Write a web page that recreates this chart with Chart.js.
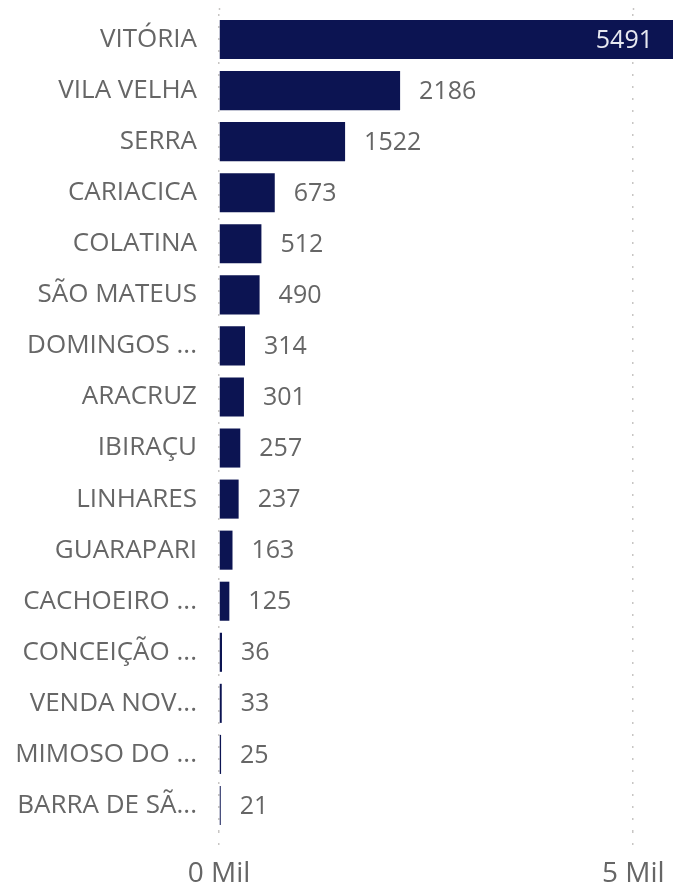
<!DOCTYPE html>
<html>
<head>
<meta charset="utf-8">
<script src="https://cdn.jsdelivr.net/npm/chart.js@4/dist/chart.umd.min.js"></script>
<style>
  html, body { margin: 0; padding: 0; background: #ffffff; }
  #wrap { width: 673px; height: 896px; }
</style>
</head>
<body>
<div id="wrap"><canvas id="canvas"></canvas></div>
<script>
// cities (truncated like in the original visual)
var cities = ["VITÓRIA", "VILA VELHA", "SERRA", "CARIACICA", "COLATINA", "SÃO MATEUS",
  "DOMINGOS ...", "ARACRUZ", "IBIRAÇU", "LINHARES", "GUARAPARI", "CACHOEIRO ...",
  "CONCEIÇÃO ...", "VENDA NOV...", "MIMOSO DO ...", "BARRA DE SÃ..."];
var counts = [5491, 2186, 1522, 673, 512, 490, 314, 301, 257, 237, 163, 125, 36, 33, 25, 21];
var tickValues = [0, 5000];
var axisMax = 5480;

var FONT = "'Open Sans', 'Noto Sans', sans-serif";
var GRID = "#c8c6c4";

// draws the value next to (or inside) every bar
var barLabels = {
  id: "barLabels",
  beforeDatasetsDraw: function (chart) {
    // the dotted gridlines start a little above the plot area
    var ctx = chart.ctx;
    var x = chart.scales.x;
    ctx.save();
    ctx.strokeStyle = GRID;
    ctx.lineWidth = 1.5;
    ctx.setLineDash([2, 10]);
    tickValues.forEach(function (v) {
      var px = Math.round(x.getPixelForValue(v)) + 0.5;
      ctx.beginPath();
      ctx.moveTo(px, 8);
      ctx.lineTo(px, chart.chartArea.top);
      ctx.stroke();
    });
    ctx.restore();
  },
  afterDatasetsDraw: function (chart) {
    var ctx = chart.ctx;
    var area = chart.chartArea;
    var meta = chart.getDatasetMeta(0);
    ctx.save();
    ctx.font = "25px " + FONT;
    ctx.textBaseline = "middle";
    meta.data.forEach(function (bar, i) {
      var text = String(counts[i]);
      var w = ctx.measureText(text).width;
      var end = Math.min(bar.x, area.right);
      if (end + 19 + w > area.right) {   // no room outside -> put it inside
        ctx.fillStyle = "#e6e8f0";
        ctx.textAlign = "right";
        ctx.fillText(text, end - 20, bar.y + 1);
      } else {
        ctx.fillStyle = "#666666";
        ctx.textAlign = "left";
        ctx.fillText(text, end + 19, bar.y + 1);
      }
    });
    ctx.restore();
  }
};

var chart = new Chart(document.getElementById("canvas"), {
  type: "bar",
  data: {
    labels: cities,
    datasets: [{
      data: counts,
      backgroundColor: "#0c1452",
      borderWidth: 0,
      categoryPercentage: 1,
      barPercentage: 0.765
    }]
  },
  options: {
    indexAxis: "y",
    responsive: true,
    maintainAspectRatio: false,
    animation: false,
    layout: { padding: { top: 14, right: 0, bottom: 0, left: 0 } },
    plugins: {
      legend: { display: false },
      tooltip: { enabled: false }
    },
    scales: {
      x: {
        min: 0,
        max: axisMax,
        border: { display: false, dash: [2, 10] },
        grid: {
          color: GRID,
          lineWidth: 1.5,
          drawTicks: true,
          tickLength: 16,
          tickColor: GRID,
          tickBorderDash: [2, 10]
        },
        afterBuildTicks: function (scale) {
          scale.ticks = tickValues.map(function (v) { return { value: v }; });
        },
        afterFit: function (scale) {
          scale.height = 65;
          scale.paddingLeft = 0;
          scale.paddingRight = 0;
        },
        ticks: {
          padding: 10,
          color: "#666666",
          font: { family: FONT, size: 28 },
          maxRotation: 0,
          callback: function (v) { return (v / 1000) + " Mil"; }
        }
      },
      y: {
        border: { display: false },
        grid: { display: false, drawTicks: false },
        afterFit: function (scale) {
          scale.width = 219;
          scale.paddingTop = 0;
          scale.paddingBottom = 0;
        },
        ticks: {
          padding: 22,
          color: "#666666",
          font: { family: FONT, size: 26 }
        }
      }
    }
  },
  plugins: [barLabels]
});
</script>
</body>
</html>
